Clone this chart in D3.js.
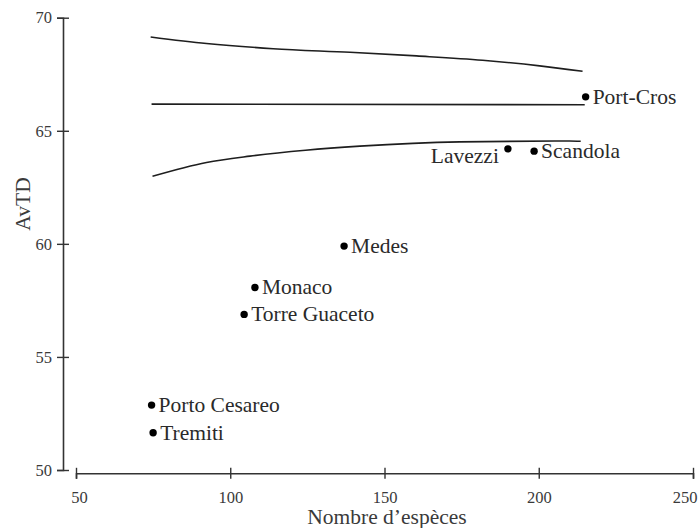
<!DOCTYPE html>
<html>
<head>
<meta charset="utf-8">
<script src="https://cdn.jsdelivr.net/npm/d3@7/dist/d3.min.js"></script>
<style>
  html, body { margin: 0; padding: 0; background: #fff; }
  svg { display: block; }
  svg text { font-family: "Liberation Serif", "Times New Roman", serif; }
</style>
</head>
<body>
<svg id="chart" width="699" height="528"></svg>
<script>
// ---- Data ----
const sites = ["Port-Cros", "Lavezzi", "Scandola", "Medes", "Monaco", "Torre Guaceto", "Porto Cesareo", "Tremiti"];
const species = [215.2, 190.0, 198.5, 136.9, 108.0, 104.5, 74.5, 75.0];
const avtd = [66.5, 64.2, 64.1, 59.9, 58.07, 56.88, 52.87, 51.65];
const labelSide = ["right", "left", "right", "right", "right", "right", "right", "right"];

// funnel: upper 95% limit, expected mean, lower 95% limit
const upperX = [74.2, 92.3, 113.9, 138.8, 160.4, 181.8, 200.3, 214.2];
const upperY = [69.15, 68.86, 68.63, 68.47, 68.31, 68.12, 67.87, 67.63];
const meanX = [74.5, 214.9];
const meanY = [66.18, 66.15];
const lowerX = [74.8, 92.3, 106.4, 124.4, 142.0, 174.4, 210.0, 213.6];
const lowerY = [62.99, 63.60, 63.88, 64.14, 64.32, 64.51, 64.55, 64.54];

const xTicks = [50, 100, 150, 200, 250];
const yTicks = [50, 55, 60, 65, 70];
const xTitle = "Nombre d\u2019esp\u00e8ces";
const yTitle = "AvTD";

// ---- Scales ----
const svg = d3.select("#chart");
const x = d3.scaleLinear().domain([50, 250]).range([76, 693]);
const y = d3.scaleLinear().domain([50, 70]).range([470, 17.7]);

const axisColor = "#333";
const textColor = "#3a3a3a";
const serif = "'Liberation Serif', 'Times New Roman', serif";

// ---- Axes ----
const yAxis = svg.append("g")
  .attr("transform", "translate(63,0)")
  .call(d3.axisLeft(y).tickValues(yTicks).tickSizeOuter(0).tickSize(6).tickPadding(5));
yAxis.attr("font-family", null).attr("font-size", null);
yAxis.select(".domain").attr("stroke", axisColor).attr("stroke-width", 1.6);
yAxis.selectAll(".tick line").attr("x1", 6).attr("stroke", axisColor).attr("stroke-width", 1.4);
yAxis.selectAll(".tick text")
  .style("font-size", "16.5px").style("font-family", serif).attr("fill", textColor);

const xAxis = svg.append("g")
  .attr("transform", "translate(0,473.3)")
  .call(d3.axisBottom(x).tickValues(xTicks).tickSizeOuter(0).tickSize(5.5).tickPadding(12));
xAxis.attr("font-family", null).attr("font-size", null);
xAxis.select(".domain").attr("stroke", axisColor).attr("stroke-width", 1.6);
xAxis.selectAll(".tick line").attr("y1", -5.5).attr("stroke", axisColor).attr("stroke-width", 1.4);
xAxis.selectAll(".tick text")
  .style("font-size", "16.5px").style("font-family", serif).attr("fill", textColor)
  .attr("text-anchor", (d, i) => i === xTicks.length - 1 ? "end" : "middle")
  .attr("dx", (d, i) => i === xTicks.length - 1 ? 4 : (i === 0 ? 3 : 0));

// titles
svg.append("text")
  .attr("x", 387).attr("y", 524)
  .attr("text-anchor", "middle")
  .style("font-size", "21.5px").attr("fill", textColor)
  .text(xTitle);

svg.append("text")
  .attr("transform", "translate(30,204) rotate(-90)")
  .attr("text-anchor", "middle")
  .style("font-size", "21.5px").attr("fill", textColor)
  .text(yTitle);

// ---- Funnel lines ----
const line = d3.line().x(d => x(d[0])).y(d => y(d[1])).curve(d3.curveMonotoneX);
const funnels = [
  d3.zip(upperX, upperY),
  d3.zip(meanX, meanY),
  d3.zip(lowerX, lowerY)
];
svg.append("g").selectAll("path")
  .data(funnels)
  .join("path")
  .attr("d", line)
  .attr("fill", "none")
  .attr("stroke", "#1e1e1e")
  .attr("stroke-width", 1.6);

// ---- Points ----
const pts = sites.map((s, i) => ({ name: s, x: species[i], y: avtd[i], side: labelSide[i] }));
const g = svg.append("g");
g.selectAll("circle")
  .data(pts)
  .join("circle")
  .attr("cx", d => x(d.x))
  .attr("cy", d => y(d.y))
  .attr("r", 3.7)
  .attr("fill", "#000");

g.selectAll("text")
  .data(pts)
  .join("text")
  .attr("x", d => d.side === "left" ? x(d.x) - 9 : x(d.x) + 7)
  .attr("y", d => d.side === "left" ? y(d.y) + 14 : y(d.y) + 7)
  .attr("text-anchor", d => d.side === "left" ? "end" : "start")
  .style("font-size", "21.5px")
  .attr("fill", "#2a2a2a")
  .text(d => d.name);
</script>
</body>
</html>
